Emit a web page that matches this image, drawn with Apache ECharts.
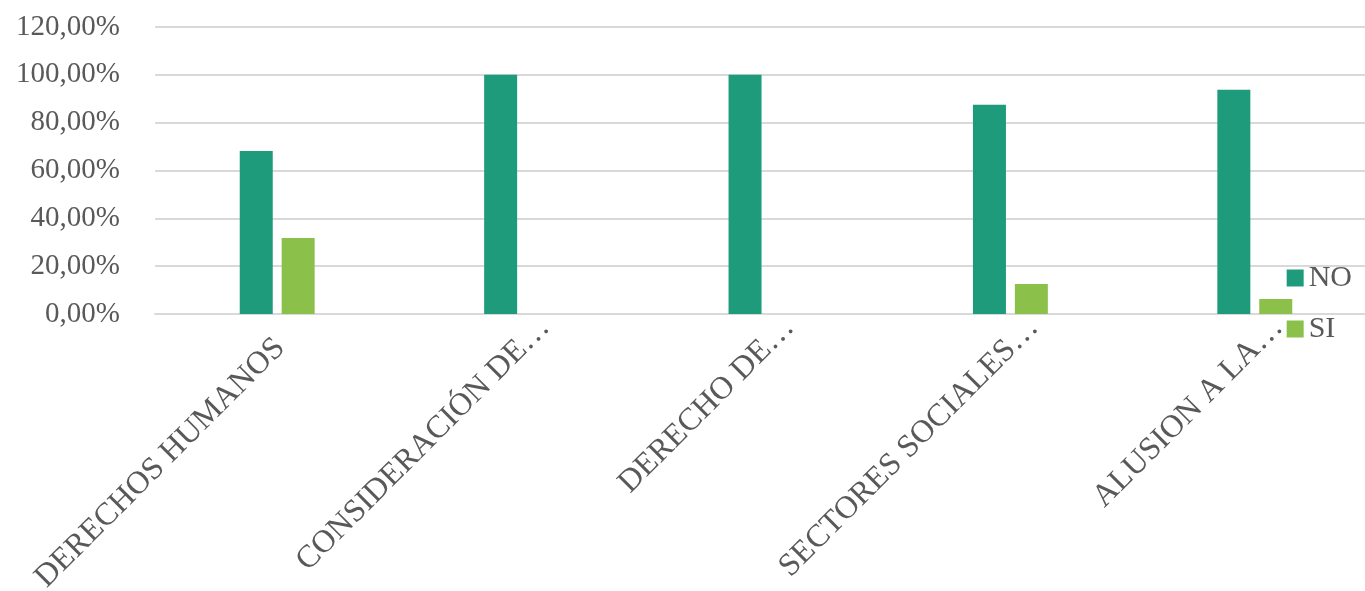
<!DOCTYPE html>
<html>
<head>
<meta charset="utf-8">
<script src="https://cdn.jsdelivr.net/npm/echarts@6/dist/echarts.min.js"></script>
<style>
html,body{margin:0;padding:0;background:#fff;}
#c{width:1365px;height:591px;}
</style>
</head>
<body>
<div id="c"></div>
<script>
const categories = ["DERECHOS HUMANOS", "CONSIDERACIÓN DE…", "DERECHO DE…", "SECTORES SOCIALES…", "ALUSION A LA…"];
const seriesNames = ["NO", "SI"];
const noValues = [68.18, 100, 100, 87.5, 93.75];
const siValues = [31.82, 0, 0, 12.5, 6.25];
const yTicks = [0, 20, 40, 60, 80, 100, 120];

const font = "'Liberation Serif', 'Times New Roman', serif";
// truncated labels (ending with the ellipsis) sit a little further along their slant, as in the original
const categoryItems = categories.map(c => c.endsWith('…')
  ? {value: c, textStyle: {padding: [0, -33, 0, 0]}}
  : {value: c, textStyle: {padding: [0, -4, 0, 0]}});

const chart = echarts.init(document.getElementById('c'), null, {renderer: 'canvas'});
chart.setOption({
  animation: false,
  backgroundColor: '#ffffff',
  grid: {left: 155, right: -12, top: 27, bottom: 277, containLabel: false, outerBoundsMode: 'none'},
  legend: {
    orient: 'vertical', right: 8, top: 258,
    itemWidth: 17, itemHeight: 17, itemGap: 21,
    icon: 'rect',
    textStyle: {fontFamily: font, fontSize: 30, color: '#595959'},
    data: seriesNames
  },
  xAxis: {
    type: 'category', data: categoryItems,
    axisLine: {lineStyle: {color: '#d9d9d9', width: 2}},
    axisTick: {show: false},
    axisLabel: {rotate: 45, interval: 0, margin: 32, fontFamily: font, fontSize: 32, color: '#595959'}
  },
  yAxis: {
    type: 'value', min: yTicks[0], max: yTicks[yTicks.length - 1], interval: 20,
    axisLine: {show: false}, axisTick: {show: false},
    splitLine: {lineStyle: {color: '#d9d9d9', width: 2}},
    axisLabel: {margin: 35, fontFamily: font, fontSize: 29, color: '#595959',
      formatter: v => v.toFixed(2).replace('.', ',') + '%'}
  },
  series: [
    {name: seriesNames[0], type: 'bar', data: noValues, barWidth: 33, barGap: '27%', itemStyle: {color: '#1e9b7a'}},
    {name: seriesNames[1], type: 'bar', data: siValues, barWidth: 33, itemStyle: {color: '#8bc14a'}}
  ]
});
</script>
</body>
</html>
